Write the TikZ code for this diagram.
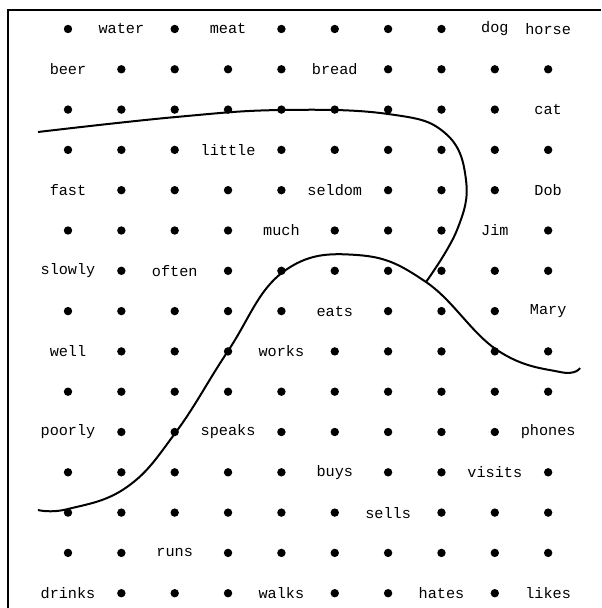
\documentclass[tikz,border=0pt]{standalone}
\usepackage{fontspec}
\setmonofont{Liberation Mono}

\begin{document}
\begin{tikzpicture}[x=0.5pt, y=-0.5pt, line width=1pt, black,
        dot/.style={circle, fill, inner sep=0pt, minimum size=4.2pt},
        word/.style={inner sep=0pt, font=\ttfamily\fontsize{7.6}{9}\selectfont}]
            \useasboundingbox (0,0) rectangle (601,608);

            % Draw the frame (only left and top are shown)
            \draw (8,608) -- (8,10) -- (601,10);

            % Draw the words in the grid
            \foreach \c/\r/\w in {1/0/water, 3/0/meat, 8/0/dog, 9/0/horse,
                    0/1/beer, 5/1/bread, 9/2/cat, 3/3/little,
                    0/4/fast, 5/4/seldom, 9/4/Dob, 4/5/much, 8/5/Jim,
                    0/6/slowly, 2/6/often, 5/7/eats, 9/7/Mary,
                    0/8/well, 4/8/works, 0/10/poorly, 3/10/speaks, 9/10/phones,
                    5/11/buys, 8/11/visits, 6/12/sells, 2/13/runs,
                    0/14/drinks, 4/14/walks, 7/14/hates, 9/14/likes} {
                \node[word] (n-\c-\r) at ({68+53.35*\c}, {29+40.3*\r}) {\w};
            }

            % Draw the dots in the other cells
            \foreach \r/\cols in {0/{0,2,4,5,6,7}, 1/{1,2,3,4,6,7,8,9},
                    2/{0,1,2,3,4,5,6,7,8}, 3/{0,1,2,4,5,6,7,8,9},
                    4/{1,2,3,4,6,7,8}, 5/{0,1,2,3,5,6,7,9},
                    6/{1,3,4,5,6,7,8,9}, 7/{0,1,2,3,4,6,7,8},
                    8/{1,2,3,5,6,7,8,9}, 9/{0,1,2,3,4,5,6,7,8,9},
                    10/{1,2,4,5,6,7,8}, 11/{0,1,2,3,4,6,7,9},
                    12/{0,1,2,3,4,5,7,8,9}, 13/{0,1,3,4,5,6,7,8,9},
                    14/{1,2,3,5,6,8}} {
                \foreach \c in \cols {
                    \node[dot] (n-\c-\r) at ({68+53.35*\c}, {29+40.3*\r}) {};
                }
            }

            % Draw the two curves
            \coordinate (top-start) at (38,132);
            \coordinate (low-start) at (38,510);
            \coordinate (low-end) at (580,368);
            \coordinate (meet) at (426,282);

            \draw plot[smooth, tension=0.7] coordinates {(top-start) (176,117)
                (282,110) (388,114) (445,133) (466,180) (457,230) (meet)};

            \draw plot[smooth, tension=0.7] coordinates {(low-start) (68,509)
                (127,487) (176,432) (228,351) (283,272) (357,255) (meet)
                (497,350) (560,372) (low-end)};
        \end{tikzpicture}
\end{document}
